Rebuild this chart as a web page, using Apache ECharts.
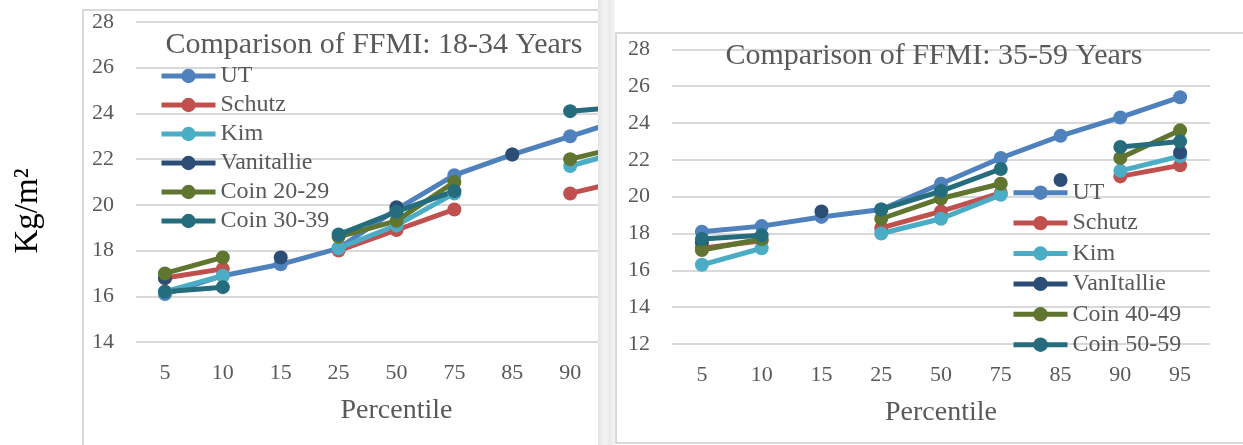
<!DOCTYPE html>
<html>
<head>
<meta charset="utf-8">
<script src="https://cdn.jsdelivr.net/npm/echarts@6/dist/echarts.min.js"></script>
<style>
  html, body { margin: 0; padding: 0; background: #fff; width: 1243px; height: 445px; overflow: hidden; position: relative; }
  .abs { position: absolute; }
  #frameA { left: 82px; top: 9px; width: 516px; height: 500px; border-left: 2px solid #d9d9d9; border-top: 2px solid #d9d9d9; }
  #clipA { left: 0; top: 0; width: 598px; height: 445px; overflow: hidden; }
  #chartA { left: 0; top: 0; width: 720px; height: 445px; }
  #band { left: 598px; top: 0; width: 17px; height: 445px; background: linear-gradient(90deg, #e4e4e4, #f3f3f3 40%, #e9e9e9 70%, #f6f6f6); }
  #frameB { left: 615px; top: 32px; width: 700px; height: 408px; border: 2px solid #d9d9d9; background: #fff; }
  #chartB { left: 0; top: 0; width: 1243px; height: 445px; }
</style>
</head>
<body>
<div id="frameA" class="abs"></div>
<div id="clipA" class="abs"><div id="chartA" class="abs"></div></div>
<div id="band" class="abs"></div>
<div id="frameB" class="abs"></div>
<div id="chartB" class="abs"></div>
<script>
// Percentile categories shared by both panels
var percentiles = ['5', '10', '15', '25', '50', '75', '85', '90', '95'];

// FFMI (kg/m²), men 18-34 years
var ut18 = [16.1, 16.9, 17.4, 18.1, 19.8, 21.3, 22.2, 23.0, 23.8];
var schutz18 = [16.8, 17.2, null, 18.0, 18.9, 19.8, null, 20.5, 21.1];
var kim18 = [16.2, 16.9, null, 18.1, 19.1, 20.5, null, 21.7, 22.4];
var vanitallie18 = [16.8, null, 17.7, null, 19.9, null, 22.2, null, null];
var coin2029 = [17.0, 17.7, null, 18.6, 19.3, 21.0, null, 22.0, 22.6];
var coin3039 = [16.2, 16.4, null, 18.7, 19.7, 20.6, null, 24.1, 24.3];

// FFMI (kg/m²), men 35-59 years
var ut35 = [18.1, 18.4, 18.9, 19.3, 20.7, 22.1, 23.3, 24.3, 25.4];
var schutz35 = [17.2, 17.6, null, 18.3, 19.2, 20.2, null, 21.1, 21.7];
var kim35 = [16.3, 17.2, null, 18.0, 18.8, 20.1, null, 21.4, 22.2];
var vanitallie35 = [17.5, null, 19.2, null, null, null, 20.9, null, 22.4];
var coin4049 = [17.1, 17.7, null, 18.8, 19.9, 20.7, null, 22.1, 23.6];
var coin5059 = [17.7, 17.9, null, 19.3, 20.3, 21.5, null, 22.7, 23.0];

var yTicksA = { min: 14, max: 28, step: 2 };
var yTicksB = { min: 12, max: 28, step: 2 };

var FONT = '"Liberation Serif", "DejaVu Serif", serif';
var GREY = '#595959';
var COLORS = ['#4F81BD', '#C0504D', '#4BACC6', '#2C4D75', '#5F7530', '#256C7C'];

function makeSeries(names, values) {
  return names.map(function (n, i) {
    return {
      name: n,
      type: 'line',
      data: values[i],
      connectNulls: false,
      symbol: 'circle',
      symbolSize: 14,
      showAllSymbol: true,
      lineStyle: { width: 5, color: COLORS[i] },
      itemStyle: { color: COLORS[i] },
      emphasis: { disabled: true }
    };
  });
}

function panel(cfg) {
  return {
    animation: false,
    color: COLORS,
    title: {
      text: cfg.title,
      left: cfg.titleX, top: cfg.titleY, padding: 0,
      textAlign: 'center',
      textStyle: { fontFamily: FONT, fontSize: 30, fontWeight: 'normal', color: GREY }
    },
    legend: {
      orient: 'vertical',
      left: cfg.legendX, top: cfg.legendY, padding: 0,
      itemWidth: 54, itemHeight: 18, itemGap: 0,
      lineStyle: { width: 5 },
      textStyle: { fontFamily: FONT, fontSize: 24, color: GREY, lineHeight: cfg.legendRow }
    },
    grid: { left: cfg.gx, top: cfg.gy, width: cfg.gw, height: cfg.gh, containLabel: false },
    xAxis: {
      type: 'category',
      data: percentiles,
      boundaryGap: true,
      axisLine: { show: false },
      axisTick: { show: false },
      axisLabel: { fontFamily: FONT, fontSize: 22, color: GREY, margin: 20, interval: 0 },
      name: 'Percentile',
      nameLocation: 'middle',
      nameGap: 55,
      nameTextStyle: { fontFamily: FONT, fontSize: 28, color: GREY }
    },
    yAxis: {
      type: 'value',
      min: cfg.ticks.min, max: cfg.ticks.max, interval: cfg.ticks.step,
      axisLine: { show: false },
      axisTick: { show: false },
      axisLabel: { fontFamily: FONT, fontSize: 22, color: GREY, margin: 22 },
      splitLine: { lineStyle: { color: '#d9d9d9', width: 2 } }
    },
    graphic: cfg.graphic || [],
    series: makeSeries(cfg.names, cfg.values)
  };
}

var chartA = echarts.init(document.getElementById('chartA'), null, { renderer: 'canvas' });
chartA.setOption(panel({
  title: 'Comparison of FFMI: 18-34 Years',
  titleX: 374, titleY: 30,
  legendX: 159, legendY: 61.5, legendRow: 29,
  gx: 136, gy: 22, gw: 521, gh: 320,
  ticks: yTicksA,
  names: ['UT', 'Schutz', 'Kim', 'Vanitallie', 'Coin 20-29', 'Coin 30-39'],
  values: [ut18, schutz18, kim18, vanitallie18, coin2029, coin3039],
  graphic: [{
    type: 'text', x: 28, y: 211, rotation: Math.PI / 2,
    style: { text: 'Kg/m²', fontFamily: FONT, fontSize: 33, fill: '#000', align: 'center', verticalAlign: 'middle' }
  }]
}));

var chartB = echarts.init(document.getElementById('chartB'), null, { renderer: 'canvas' });
chartB.setOption(panel({
  title: 'Comparison of FFMI: 35-59 Years',
  titleX: 934, titleY: 41,
  legendX: 1011, legendY: 177.5, legendRow: 30.4,
  gx: 672, gy: 49.3, gw: 538, gh: 294.7,
  ticks: yTicksB,
  names: ['UT', 'Schutz', 'Kim', 'VanItallie', 'Coin 40-49', 'Coin 50-59'],
  values: [ut35, schutz35, kim35, vanitallie35, coin4049, coin5059]
}));
</script>
</body>
</html>
